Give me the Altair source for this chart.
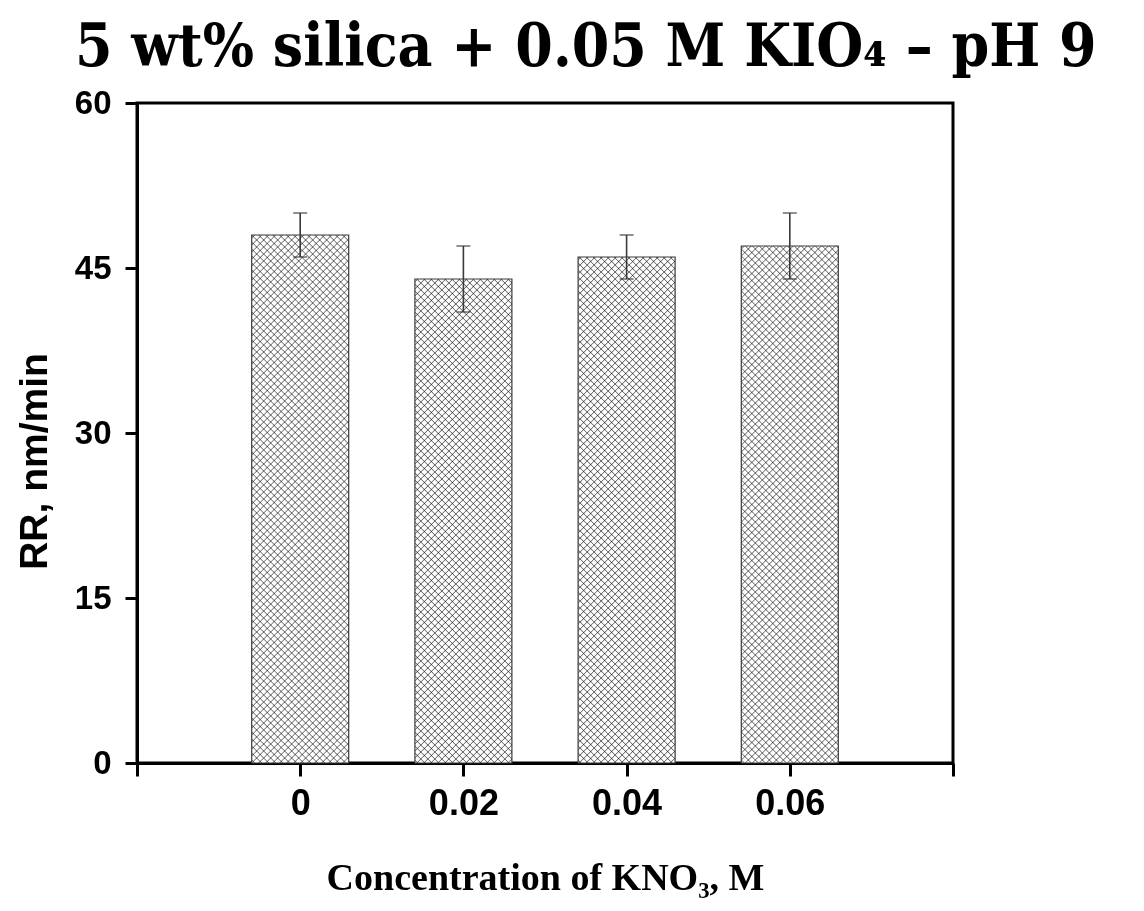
import altair as alt
import pandas as pd

# ---- data ----
conc = [0.0, 0.02, 0.04, 0.06]
rr = [48, 44, 46, 47]
err_lo = [46, 41, 44, 44]
err_hi = [50, 47, 48, 50]
x_ticks = [-0.02, 0.0, 0.02, 0.04, 0.06, 0.08]
y_ticks = [0, 15, 30, 45, 60]

df = pd.DataFrame({"conc": conc, "rr": rr, "lo": err_lo, "hi": err_hi,
                   "idx": list(range(len(conc)))})

# ---- layout / style ----
PW, PH = 816, 660
BAR_W = 97
PERIOD = 7.0      # hatch spacing measured along x (px)
HALF = 1.15       # half width of a hatch line (in x+y units)
HATCH = "#6e6e6e"

x_scale = alt.Scale(domain=[-0.02, 0.08], nice=False, zero=False, padding=0)
y_scale = alt.Scale(domain=[0, 60], nice=False)

x_enc = alt.X("conc:Q", scale=x_scale,
              axis=alt.Axis(values=x_ticks, format=".2~f",
                            labelExpr="(datum.value < -0.001 || datum.value > 0.07) ? '' : datum.label",
                            title="Concentration of KNO₃, M"))
y_enc = alt.Y("rr:Q", scale=y_scale,
              axis=alt.Axis(values=y_ticks, title="RR, nm/min", titleY=358))


def hatch_gradient(h, direction):
    total = BAR_W + h          # range of x+y across the bar
    r = h / BAR_W
    s = (1 + r) / (1 + r * r)
    stops = [{"offset": 0, "color": "#ffffff"}]
    c = 3.0
    while c + HALF < total:
        stops += [{"offset": (c - HALF) / total, "color": "#ffffff"},
                  {"offset": c / total, "color": HATCH},
                  {"offset": (c + HALF) / total, "color": "#ffffff"}]
        c += PERIOD
    stops.append({"offset": 1, "color": "#ffffff"})
    if direction == 1:
        g = {"gradient": "linear", "x1": 0, "y1": 0, "x2": s, "y2": s * r}
    else:
        g = {"gradient": "linear", "x1": 0, "y1": 1, "x2": s, "y2": 1 - s * r}
    g["stops"] = stops
    return g


base = alt.Chart(df)
layers = []
for i, v in enumerate(rr):
    h = v * PH / 60.0
    sub = base.transform_filter(alt.datum.idx == i)
    layers.append(sub.mark_bar(size=BAR_W, fill=hatch_gradient(h, 1))
                  .encode(x=x_enc, y=y_enc))
    layers.append(sub.mark_bar(size=BAR_W, fill=hatch_gradient(h, 2), blend="multiply")
                  .encode(x=x_enc, y=y_enc))

outline = base.mark_bar(size=BAR_W, fillOpacity=0, stroke="#3a3a3a", strokeWidth=1.2).encode(
    x=x_enc, y=y_enc)

err_rule = base.mark_rule(color="#3a3a3a", strokeWidth=1.6).encode(
    x="conc:Q", y="lo:Q", y2="hi:Q")
cap_lo = base.mark_tick(orient="horizontal", size=14, thickness=1.6, color="#3a3a3a").encode(
    x="conc:Q", y="lo:Q")
cap_hi = base.mark_tick(orient="horizontal", size=14, thickness=1.6, color="#3a3a3a").encode(
    x="conc:Q", y="hi:Q")

chart = alt.layer(*layers, outline, err_rule, cap_lo, cap_hi).properties(
    width=PW, height=PH,
    autosize=alt.AutoSizeParams(type="none"),
    padding={"left": 129, "top": 95, "right": 183, "bottom": 140},
    title=alt.TitleParams(
        "5 wt% silica + 0.05 M KIO₄ – pH 9",
        font="DejaVu Serif Condensed, DejaVu Serif, serif",
        fontSize=60, fontWeight="bold", color="black",
        anchor="start", frame="group", dx=-62, dy=61, offset=22,
        baseline="alphabetic")
).configure_view(
    stroke="black", strokeWidth=3
).configure_axis(
    grid=False,
    domainColor="black", domainWidth=3,
    tickColor="black", tickWidth=3,
    labelColor="black", titleColor="black",
    labelFont="Liberation Sans", labelFontWeight="bold",
).configure_axisY(
    tickSize=12, labelFontSize=33, labelPadding=14,
    titleFont="Liberation Sans", titleFontWeight="bold", titleFontSize=39,
    titlePadding=20,
).configure_axisX(
    tickSize=13, labelFontSize=36, labelPadding=10,
    titleFont="Liberation Serif", titleFontWeight="bold", titleFontSize=38,
    titlePadding=38,
)

chart.save("out.html", embed_options={"renderer": "svg", "actions": False})
